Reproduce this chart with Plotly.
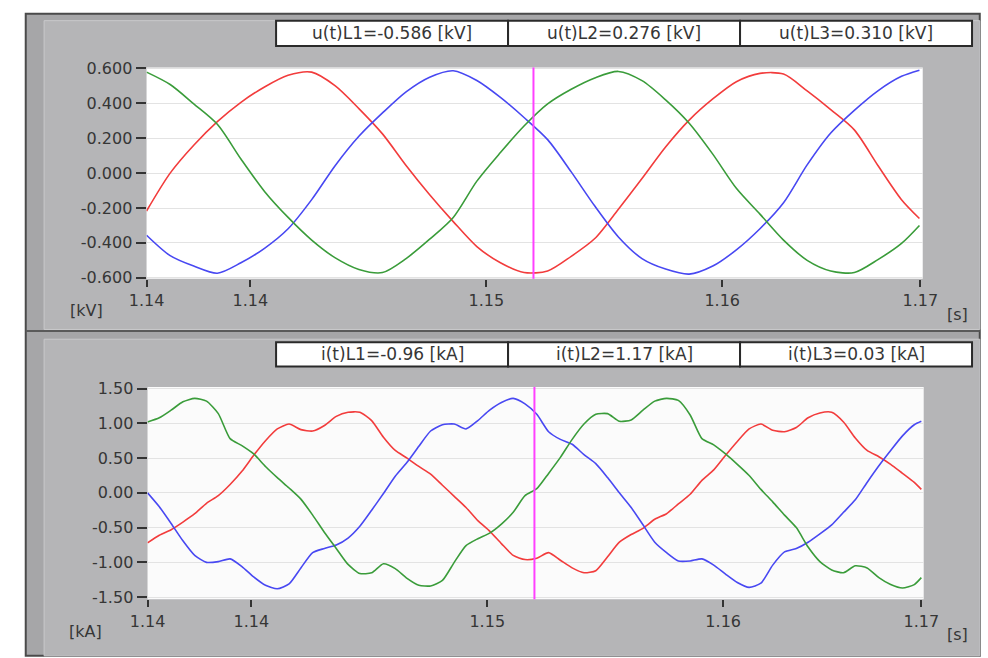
import plotly.graph_objects as go

W, H = 988, 658

# ---------------- data ----------------
t_start = 1.1396
t_end = 1.1725
x_tickvals = [1.1396, 1.1440, 1.1540, 1.1640, 1.1724]
x_ticktext = ["1.14", "1.14", "1.15", "1.16", "1.17"]
cursor_t = 1.1560

# voltage samples (1 ms grid) [kV]
volt_time = [round(1.1396 + 0.001 * k, 4) for k in range(33)] + [1.17236]
u_L1 = [-0.217, 0.0, 0.16, 0.295, 0.406, 0.494, 0.561, 0.579, 0.50, 0.37, 0.225,
        0.044, -0.124, -0.278, -0.421, -0.514, -0.570, -0.561, -0.477, -0.375,
        -0.207, -0.031, 0.15, 0.304, 0.425, 0.524, 0.572, 0.568, 0.471, 0.364,
        0.248, 0.044, -0.152, -0.26]
u_L2 = [-0.356, -0.473, -0.533, -0.574, -0.514, -0.431, -0.319, -0.152, 0.044,
        0.211, 0.345, 0.466, 0.55, 0.587, 0.531, 0.434, 0.319, 0.192, 0.007,
        -0.189, -0.366, -0.49, -0.55, -0.579, -0.533, -0.44, -0.319, -0.17, 0.047,
        0.23, 0.36, 0.472, 0.555, 0.59]
u_L3 = [0.579, 0.508, 0.397, 0.28, 0.081, -0.105, -0.254, -0.384, -0.486, -0.552,
        -0.57, -0.49, -0.379, -0.254, -0.046, 0.118, 0.27, 0.397, 0.481, 0.546,
        0.583, 0.53, 0.42, 0.286, 0.109, -0.087, -0.235, -0.384, -0.5, -0.561,
        -0.57, -0.496, -0.403, -0.30]

# current samples (0.5 ms grid) [kA]
curr_time = [round(1.1396 + 0.0005 * j, 5) for j in range(66)] + [1.1724]
i_L1 = [-0.72, -0.61, -0.53, -0.42, -0.30, -0.15, -0.04, 0.12, 0.31, 0.54,
        0.75, 0.92, 0.99, 0.91, 0.89, 0.97, 1.10, 1.16, 1.16, 1.04,
        0.80, 0.61, 0.50, 0.38, 0.27, 0.11, -0.05, -0.21, -0.40, -0.55,
        -0.73, -0.90, -0.96, -0.94, -0.86, -0.97, -1.08, -1.15, -1.12, -0.92,
        -0.71, -0.60, -0.51, -0.38, -0.30, -0.16, -0.02, 0.18, 0.33, 0.54,
        0.74, 0.92, 0.99, 0.90, 0.88, 0.94, 1.08, 1.15, 1.16, 1.02,
        0.79, 0.61, 0.52, 0.41, 0.28, 0.15, 0.05]
i_L2 = [0.0, -0.20, -0.44, -0.69, -0.90, -1.00, -0.99, -0.95, -1.06, -1.21,
        -1.33, -1.38, -1.31, -1.08, -0.86, -0.80, -0.75, -0.65, -0.48, -0.25,
        -0.01, 0.24, 0.44, 0.67, 0.89, 0.98, 0.99, 0.92, 1.04, 1.19,
        1.30, 1.36, 1.28, 1.13, 0.88, 0.77, 0.70, 0.55, 0.42, 0.22,
        0.00, -0.21, -0.46, -0.71, -0.86, -0.98, -0.98, -0.95, -1.04, -1.17,
        -1.29, -1.36, -1.30, -1.04, -0.85, -0.80, -0.71, -0.59, -0.46, -0.28,
        -0.10, 0.15, 0.39, 0.61, 0.82, 0.98, 1.03]
i_L3 = [1.02, 1.08, 1.19, 1.31, 1.36, 1.32, 1.14, 0.78, 0.68, 0.56,
        0.38, 0.22, 0.07, -0.09, -0.32, -0.57, -0.80, -1.03, -1.16, -1.15,
        -1.02, -1.09, -1.23, -1.33, -1.34, -1.26, -1.00, -0.76, -0.66, -0.58,
        -0.45, -0.28, -0.04, 0.06, 0.28, 0.51, 0.77, 0.99, 1.13, 1.14,
        1.03, 1.05, 1.19, 1.32, 1.36, 1.33, 1.12, 0.78, 0.69, 0.56,
        0.41, 0.25, 0.05, -0.13, -0.32, -0.50, -0.78, -0.99, -1.11, -1.15,
        -1.05, -1.08, -1.22, -1.32, -1.37, -1.32, -1.22]

u_tickvals = [0.6, 0.4, 0.2, 0.0, -0.2, -0.4, -0.6]
u_ticktext = ["0.600", "0.400", "0.200", "0.000", "-0.200", "-0.400", "-0.600"]
i_tickvals = [1.5, 1.0, 0.5, 0.0, -0.5, -1.0, -1.5]
i_ticktext = ["1.50", "1.00", "0.50", "0.00", "-0.50", "-1.00", "-1.50"]

u_labels = ["u(t)L1=-0.586 [kV]", "u(t)L2=0.276 [kV]", "u(t)L3=0.310 [kV]"]
i_labels = ["i(t)L1=-0.96 [kA]", "i(t)L2=1.17 [kA]", "i(t)L3=0.03 [kA]"]

series_colors = ["#f23c3c", "#4848f2", "#3a9c3a"]

# ---------------- figure ----------------
FONT = "DejaVu Sans"
TXT = "#363636"

def px(x):
    return x / W

def py(y):
    return 1 - y / H

fig = go.Figure()
for vals, col in zip([u_L1, u_L2, u_L3], series_colors):
    fig.add_trace(go.Scatter(x=volt_time, y=vals, mode="lines",
                             line=dict(color=col, width=1.6, shape="spline", smoothing=0.8),
                             xaxis="x", yaxis="y", hoverinfo="skip"))
for vals, col in zip([i_L1, i_L2, i_L3], series_colors):
    fig.add_trace(go.Scatter(x=curr_time, y=vals, mode="lines",
                             line=dict(color=col, width=1.6, shape="spline", smoothing=0.6),
                             xaxis="x2", yaxis="y2", hoverinfo="skip"))

shapes = []
# outer frame
shapes.append(dict(type="rect", xref="paper", yref="paper", layer="below",
                   x0=px(8), x1=px(995), y0=py(665), y1=py(6),
                   fillcolor="#a6a6a8", line=dict(color="#4a4a4a", width=2)))
# panels
for top, bot in [(13, 330), (340, 665)]:
    shapes.append(dict(type="rect", xref="paper", yref="paper", layer="below",
                       x0=px(27), x1=px(995), y0=py(bot), y1=py(top),
                       fillcolor="#b5b5b7", line=dict(color="#c9c9cb", width=1)))
# separator
shapes.append(dict(type="line", xref="paper", yref="paper", layer="below",
                   x0=px(8), x1=px(995), y0=py(331.5), y1=py(331.5),
                   line=dict(color="#5a5a5a", width=2)))
# white plot areas
shapes.append(dict(type="rect", xref="paper", yref="paper", layer="below",
                   x0=px(133), x1=px(936), y0=py(278), y1=py(61),
                   fillcolor="white", line=dict(width=0)))
shapes.append(dict(type="rect", xref="paper", yref="paper", layer="below",
                   x0=px(134), x1=px(937), y0=py(607), y1=py(389),
                   fillcolor="#fbfbfb", line=dict(width=0)))

annotations = []
box_x = [(267, 507), (507, 747), (747, 987)]
for (bt, bb), labels in [((13, 39), u_labels), ((343, 368), i_labels)]:
    for (bx0, bx1), lab in zip(box_x, labels):
        shapes.append(dict(type="rect", xref="paper", yref="paper", layer="above",
                           x0=px(bx0), x1=px(bx1), y0=py(bb), y1=py(bt),
                           fillcolor="white", line=dict(color="#2a2a2a", width=2)))
        annotations.append(dict(xref="paper", yref="paper", x=px((bx0 + bx1) / 2),
                                y=py((bt + bb) / 2), text=lab, showarrow=False,
                                xanchor="center", yanchor="middle",
                                font=dict(family=FONT, size=17, color=TXT)))

# cursor lines
shapes.append(dict(type="line", xref="x", yref="y domain", x0=cursor_t, x1=cursor_t,
                   y0=0, y1=1, line=dict(color="#ff40ff", width=2)))
shapes.append(dict(type="line", xref="x2", yref="y2 domain", x0=cursor_t, x1=cursor_t,
                   y0=0, y1=1, line=dict(color="#ff40ff", width=2)))

for text, x, y in [("[kV]", 71, 311), ("[s]", 972, 315), ("[kA]", 70, 640), ("[s]", 972, 643)]:
    annotations.append(dict(xref="paper", yref="paper", x=px(x), y=py(y), text=text,
                            showarrow=False, xanchor="center", yanchor="middle",
                            font=dict(family=FONT, size=16, color=TXT)))

xcommon = dict(range=[t_start, t_end], tickmode="array", tickvals=x_tickvals,
               ticktext=x_ticktext, ticks="outside", ticklen=7, tickwidth=1.5,
               tickcolor="#333", showgrid=False, zeroline=False, showline=False,
               tickfont=dict(family=FONT, size=16, color=TXT), fixedrange=True)
ycommon = dict(tickmode="array", ticks="outside", ticklen=10, tickwidth=1.5,
               tickcolor="#333", showgrid=True, gridcolor="#e3e3e3", gridwidth=1,
               zeroline=False, showline=False,
               tickfont=dict(family=FONT, size=16, color=TXT), fixedrange=True)

fig.update_layout(
    autosize=True, margin=dict(l=0, r=0, t=0, b=0, pad=0),
    paper_bgcolor="white", plot_bgcolor="rgba(0,0,0,0)", showlegend=False,
    xaxis=dict(domain=[px(133), px(936)], anchor="y", **xcommon),
    yaxis=dict(domain=[py(278), py(61)], anchor="x", range=[-0.606, 0.606],
               tickvals=u_tickvals, ticktext=u_ticktext, **ycommon),
    xaxis2=dict(domain=[px(134), px(937)], anchor="y2", **xcommon),
    yaxis2=dict(domain=[py(607), py(389)], anchor="x2", range=[-1.532, 1.524],
                tickvals=i_tickvals, ticktext=i_ticktext, **ycommon),
    shapes=shapes, annotations=annotations,
)

fig.write_html("out.html", config={"displayModeBar": False, "responsive": True},
               default_width="100vw", default_height="100vh")

# remove the default page margin so the figure fills the window exactly
with open("out.html", "r", encoding="utf-8") as f:
    html = f.read()
html = html.replace("<head>", "<head><style>html,body{margin:0;padding:0;overflow:hidden}</style>", 1)
with open("out.html", "w", encoding="utf-8") as f:
    f.write(html)
